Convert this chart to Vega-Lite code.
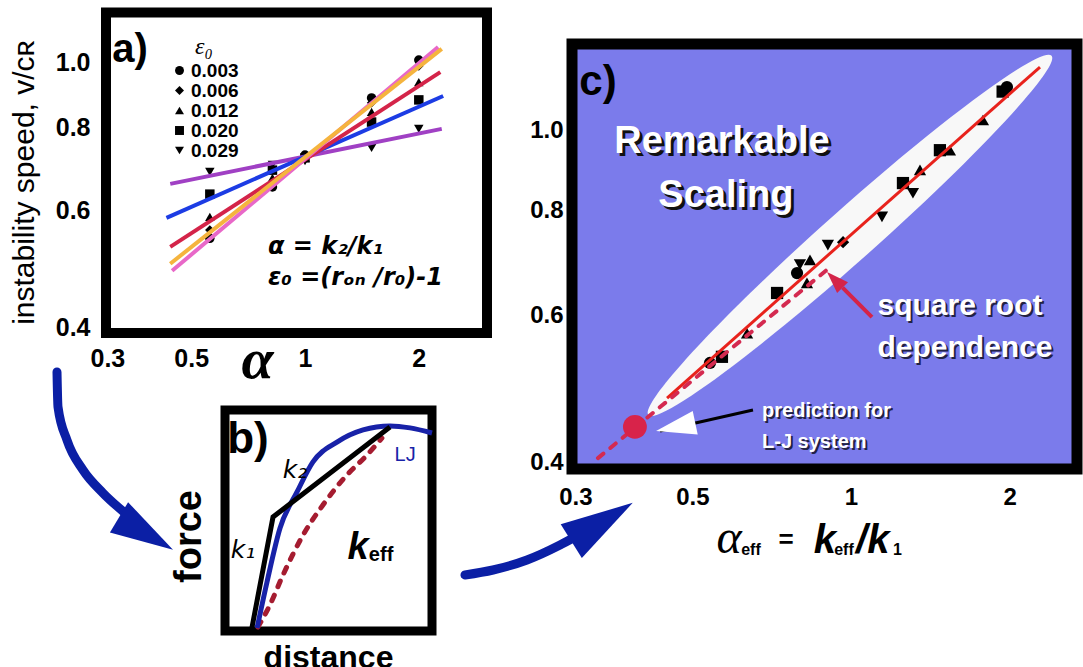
{
"$schema": "https://vega.github.io/schema/vega-lite/v6.json",
"width": 1083, "height": 667, "autosize": "none", "padding": 0, "background": "white",
"config": {"view": {"stroke": null}, "font": "Liberation Sans",
  "axis": {"grid": false, "domain": false, "ticks": false, "tickSize": 0, "labelFont": "Liberation Sans", "labelFontWeight": "bold", "labelColor": "black", "titleColor": "black", "labelFlush": false, "labelOverlap": false, "titleFont": "Liberation Sans"}},
"datasets": {
  "a_points": [
    {"eps":"0.003","alpha":0.56,"v":0.545},{"eps":"0.003","alpha":0.82,"v":0.651},{"eps":"0.003","alpha":1.0,"v":0.727},{"eps":"0.003","alpha":1.5,"v":0.886},{"eps":"0.003","alpha":2.0,"v":1.01},
    {"eps":"0.006","alpha":0.56,"v":0.561},{"eps":"0.006","alpha":0.82,"v":0.66},{"eps":"0.006","alpha":1.0,"v":0.725},{"eps":"0.006","alpha":1.5,"v":0.871},{"eps":"0.006","alpha":2.0,"v":0.99},
    {"eps":"0.012","alpha":0.56,"v":0.587},{"eps":"0.012","alpha":0.82,"v":0.672},{"eps":"0.012","alpha":1.0,"v":0.72},{"eps":"0.012","alpha":1.5,"v":0.844},{"eps":"0.012","alpha":2.0,"v":0.936},
    {"eps":"0.020","alpha":0.56,"v":0.635},{"eps":"0.020","alpha":0.82,"v":0.69},{"eps":"0.020","alpha":1.0,"v":0.72},{"eps":"0.020","alpha":1.5,"v":0.815},{"eps":"0.020","alpha":2.0,"v":0.88},
    {"eps":"0.029","alpha":0.56,"v":0.686},{"eps":"0.029","alpha":0.82,"v":0.703},{"eps":"0.029","alpha":1.0,"v":0.712},{"eps":"0.029","alpha":1.5,"v":0.745},{"eps":"0.029","alpha":2.0,"v":0.796}
  ],
  "a_lines": [
    {"series":"0.003","alpha":0.445,"v":0.487},{"series":"0.003","alpha":2.25,"v":1.057},
    {"series":"0.006","alpha":0.44,"v":0.499},{"series":"0.006","alpha":2.3,"v":1.05},
    {"series":"0.012","alpha":0.44,"v":0.529},{"series":"0.012","alpha":2.28,"v":0.969},
    {"series":"0.020","alpha":0.43,"v":0.585},{"series":"0.020","alpha":2.32,"v":0.892},
    {"series":"0.029","alpha":0.44,"v":0.658},{"series":"0.029","alpha":2.3,"v":0.796}
  ],
  "b_curves": [
    {"curve":"LJ","x":1.55,"y":0.14},{"curve":"LJ","x":2.03,"y":2.22},{"curve":"LJ","x":2.66,"y":4.66},{"curve":"LJ","x":3.48,"y":6.29},{"curve":"LJ","x":4.25,"y":7.65},{"curve":"LJ","x":5.41,"y":8.55},{"curve":"LJ","x":6.67,"y":9.1},{"curve":"LJ","x":7.97,"y":9.28},{"curve":"LJ","x":8.94,"y":9.19},{"curve":"LJ","x":10.0,"y":8.96},
    {"curve":"model","x":1.3,"y":0.14},{"curve":"model","x":2.32,"y":5.16},{"curve":"model","x":7.97,"y":9.23},
    {"curve":"keff","x":1.59,"y":0.18},{"curve":"keff","x":2.17,"y":1.18},{"curve":"keff","x":2.8,"y":2.53},{"curve":"keff","x":3.77,"y":4.34},{"curve":"keff","x":4.73,"y":5.7},{"curve":"keff","x":5.89,"y":7.06},{"curve":"keff","x":6.86,"y":7.96},{"curve":"keff","x":7.58,"y":8.73}
  ],
  "arrows": [
    {"arrow":"ab","x":-8.116,"y":11.72},{"arrow":"ab","x":-8.068,"y":10.14},{"arrow":"ab","x":-7.633,"y":8.64},{"arrow":"ab","x":-6.86,"y":7.285},{"arrow":"ab","x":-5.894,"y":6.244},{"arrow":"ab","x":-4.83,"y":5.34},
    {"arrow":"bc","x":11.594,"y":2.534},{"arrow":"bc","x":12.947,"y":2.76},{"arrow":"bc","x":14.589,"y":3.213},{"arrow":"bc","x":16.184,"y":3.891},{"arrow":"bc","x":16.908,"y":4.253}
  ],
  "c_points": [
    {"eps":"0.003","a":1.977,"v":1.126},{"eps":"0.020","a":1.94,"v":1.112},{"eps":"0.012","a":1.78,"v":1.028},
    {"eps":"0.020","a":1.475,"v":0.946},{"eps":"0.012","a":1.541,"v":0.946},{"eps":"0.012","a":1.352,"v":0.896},
    {"eps":"0.020","a":1.255,"v":0.864},{"eps":"0.029","a":1.311,"v":0.84},{"eps":"0.029","a":1.145,"v":0.787},
    {"eps":"0.029","a":0.904,"v":0.728},{"eps":"0.006","a":0.966,"v":0.734},{"eps":"0.012","a":0.836,"v":0.699},
    {"eps":"0.029","a":0.8,"v":0.69},{"eps":"0.003","a":0.79,"v":0.674},{"eps":"0.012","a":0.825,"v":0.656},
    {"eps":"0.020","a":0.724,"v":0.638},{"eps":"0.012","a":0.635,"v":0.571},{"eps":"0.003","a":0.54,"v":0.526},
    {"eps":"0.020","a":0.569,"v":0.535}
  ],
  "c_lines": [
    {"line":"fit","a":0.4477,"v":0.4775},{"line":"fit","a":2.284,"v":1.19},
    {"line":"ext","a":0.331,"v":0.4046},{"line":"ext","a":0.9,"v":0.68}
  ],
  "c_text": [
    {"g":"big","t":"Remarkable","a":0.569,"v":0.9674},
    {"g":"big","t":"Scaling","a":0.579,"v":0.8336},
    {"g":"mid","t":"square root","a":1.61,"v":0.6155},
    {"g":"mid","t":"dependence","a":1.646,"v":0.548},
    {"g":"small","t":"prediction for","a":0.678,"v":0.4608},
    {"g":"small","t":"L-J system","a":0.678,"v":0.4229}
  ],
  "c_title": [
    {"g":"alpha","t":"α","a":0.587,"v":0.3114},
    {"g":"sub","t":"eff","a":0.646,"v":0.3097},
    {"g":"eq","t":"=","a":0.7528,"v":0.3158},
    {"g":"k","t":"k","a":0.8926,"v":0.3114},
    {"g":"sub","t":"eff","a":0.97,"v":0.3097},
    {"g":"k","t":"/k","a":1.1,"v":0.3114},
    {"g":"sub","t":"1","a":1.225,"v":0.3097}
  ]
},
"layer": [
  {"layer": [
    {"data": {"values": [{}]},
     "mark": {"type": "rect", "fill": "white", "stroke": "black", "strokeWidth": 10},
     "encoding": {
       "x": {"datum": 0.2975, "type": "quantitative",
             "scale": {"type": "log", "domain": [0.2975, 3.03], "range": [106, 487], "nice": false},
             "axis": {"orient": "bottom", "offset": -334, "values": [0.3, 0.5, 1, 2], "format": "~g", "labelFontSize": 25, "labelPadding": 13,
                      "title": "α", "titleFont": "Liberation Serif", "titleFontStyle": "italic", "titleFontWeight": "bold", "titleFontSize": 58,
                      "titleX": 257, "titleY": 44, "titleBaseline": "alphabetic", "titleAlign": "center"}},
       "x2": {"datum": 3.03},
       "y": {"datum": 0.3926, "type": "quantitative",
             "scale": {"type": "log", "domain": [0.3926, 1.191], "range": [333, 12.5], "nice": false},
             "axis": {"orient": "left", "offset": -106, "values": [0.4, 0.6, 0.8, 1], "format": ".1f", "labelFontSize": 25, "labelPadding": 16,
                      "title": "instability speed, v/cʀ", "titleFontSize": 30, "titleFontWeight": "normal",
                      "titleX": -73, "titleY": 182, "titleAngle": -90, "titleBaseline": "alphabetic", "titleAlign": "center"}},
       "y2": {"datum": 1.191}}},
    {"data": {"name": "a_points"},
     "mark": {"type": "point", "filled": true, "color": "black", "size": 90, "opacity": 1},
     "encoding": {
       "x": {"field": "alpha", "type": "quantitative"},
       "y": {"field": "v", "type": "quantitative"},
       "shape": {"field": "eps", "type": "nominal",
                 "scale": {"domain": ["0.003", "0.006", "0.012", "0.020", "0.029"], "range": ["circle", "diamond", "triangle-up", "square", "triangle-down"]},
                 "legend": {"orient": "none", "legendX": 170, "legendY": 35, "title": "ε₀", "titleFont": "Liberation Serif", "titleFontStyle": "italic", "titleFontWeight": "normal", "titleFontSize": 24, "titleColor": "black", "titleAnchor": "middle", "titlePadding": 2,
                            "labelFont": "Liberation Sans", "labelFontWeight": "bold", "labelFontSize": 19, "labelColor": "black", "labelOffset": 2, "symbolSize": 80, "symbolFillColor": "black", "symbolStrokeColor": "black", "rowPadding": 0, "padding": 0}}}},
    {"data": {"name": "a_lines"}, "transform": [{"filter": "datum.series === '0.029'"}],
     "mark": {"type": "line", "strokeWidth": 4, "color": "#a040c4"},
     "encoding": {"x": {"field": "alpha", "type": "quantitative"}, "y": {"field": "v", "type": "quantitative"}}},
    {"data": {"name": "a_lines"}, "transform": [{"filter": "datum.series === '0.020'"}],
     "mark": {"type": "line", "strokeWidth": 4, "color": "#1c3ce4"},
     "encoding": {"x": {"field": "alpha", "type": "quantitative"}, "y": {"field": "v", "type": "quantitative"}}},
    {"data": {"name": "a_lines"}, "transform": [{"filter": "datum.series === '0.012'"}],
     "mark": {"type": "line", "strokeWidth": 4, "color": "#d42449"},
     "encoding": {"x": {"field": "alpha", "type": "quantitative"}, "y": {"field": "v", "type": "quantitative"}}},
    {"data": {"name": "a_lines"}, "transform": [{"filter": "datum.series === '0.003'"}],
     "mark": {"type": "line", "strokeWidth": 4, "color": "#e868c8"},
     "encoding": {"x": {"field": "alpha", "type": "quantitative"}, "y": {"field": "v", "type": "quantitative"}}},
    {"data": {"name": "a_lines"}, "transform": [{"filter": "datum.series === '0.006'"}],
     "mark": {"type": "line", "strokeWidth": 4, "color": "#f5b43e"},
     "encoding": {"x": {"field": "alpha", "type": "quantitative"}, "y": {"field": "v", "type": "quantitative"}}},
    {"data": {"values": [{"t": "a)", "alpha": 0.3444, "v": 1.046}]},
     "mark": {"type": "text", "fontSize": 40, "fontWeight": "bold", "align": "center", "baseline": "middle", "color": "black"},
     "encoding": {"x": {"field": "alpha", "type": "quantitative"}, "y": {"field": "v", "type": "quantitative"}, "text": {"field": "t", "type": "nominal"}}},
    {"data": {"values": [{"t": "α = k₂/k₁", "alpha": 0.798, "v": 0.529}, {"t": "ε₀ =(rₒₙ /r₀)-1", "alpha": 0.798, "v": 0.475}]},
     "mark": {"type": "text", "font": "DejaVu Sans", "fontSize": 24, "fontWeight": "bold", "fontStyle": "italic", "align": "left", "baseline": "middle", "color": "black"},
     "encoding": {"x": {"field": "alpha", "type": "quantitative"}, "y": {"field": "v", "type": "quantitative"}, "text": {"field": "t", "type": "nominal"}}}
  ]},
  {"layer": [
    {"data": {"values": [{}]},
     "mark": {"type": "rect", "fill": "white", "stroke": "black", "strokeWidth": 9},
     "encoding": {
       "x": {"datum": 0, "type": "quantitative",
             "scale": {"domain": [0, 10], "range": [225, 432], "nice": false, "zero": false},
             "axis": {"orient": "bottom", "offset": -36, "labels": false, "title": "distance", "titleFontSize": 32, "titleFontWeight": "bold",
                      "titleX": 328, "titleY": 36, "titleBaseline": "alphabetic", "titleAlign": "center"}},
       "x2": {"datum": 10},
       "y": {"datum": 0, "type": "quantitative",
             "scale": {"domain": [0, 10], "range": [631, 410], "nice": false, "zero": false},
             "axis": {"orient": "left", "offset": -225, "labels": false, "title": "force", "titleFontSize": 38, "titleFontWeight": "bold",
                      "titleX": -25, "titleY": 536, "titleAngle": -90, "titleBaseline": "alphabetic", "titleAlign": "center"}},
       "y2": {"datum": 10}}},
    {"data": {"name": "b_curves"}, "transform": [{"filter": "datum.curve === 'keff'"}],
     "mark": {"type": "line", "color": "#a51c30", "strokeWidth": 5, "strokeDash": [6, 9], "strokeCap": "round", "interpolate": "monotone"},
     "encoding": {"x": {"field": "x", "type": "quantitative"}, "y": {"field": "y", "type": "quantitative"}}},
    {"data": {"name": "b_curves"}, "transform": [{"filter": "datum.curve === 'LJ'"}],
     "mark": {"type": "line", "color": "#1822a8", "strokeWidth": 5, "interpolate": "monotone"},
     "encoding": {"x": {"field": "x", "type": "quantitative"}, "y": {"field": "y", "type": "quantitative"}}},
    {"data": {"name": "b_curves"}, "transform": [{"filter": "datum.curve === 'model'"}],
     "mark": {"type": "line", "color": "black", "strokeWidth": 5},
     "encoding": {"x": {"field": "x", "type": "quantitative"}, "y": {"field": "y", "type": "quantitative"}}},
    {"data": {"values": [{"t": "b)", "x": 1.11, "y": 8.64}]},
     "mark": {"type": "text", "fontSize": 44, "fontWeight": "bold", "align": "center", "baseline": "middle", "color": "black"},
     "encoding": {"x": {"field": "x", "type": "quantitative"}, "y": {"field": "y", "type": "quantitative"}, "text": {"field": "t", "type": "nominal"}}},
    {"data": {"values": [{"t": "k₂", "x": 3.38, "y": 7.29}, {"t": "k₁", "x": 0.87, "y": 3.67}]},
     "mark": {"type": "text", "font": "DejaVu Sans", "fontSize": 25, "fontStyle": "italic", "align": "center", "baseline": "middle", "color": "black"},
     "encoding": {"x": {"field": "x", "type": "quantitative"}, "y": {"field": "y", "type": "quantitative"}, "text": {"field": "t", "type": "nominal"}}},
    {"data": {"values": [{"t": "LJ", "x": 8.7, "y": 7.96}]},
     "mark": {"type": "text", "fontSize": 20, "align": "center", "baseline": "middle", "color": "#1822a8"},
     "encoding": {"x": {"field": "x", "type": "quantitative"}, "y": {"field": "y", "type": "quantitative"}, "text": {"field": "t", "type": "nominal"}}},
    {"data": {"values": [{"t": "k", "x": 6.43, "y": 3.76}]},
     "mark": {"type": "text", "fontSize": 38, "fontWeight": "bold", "fontStyle": "italic", "align": "center", "baseline": "middle", "color": "black"},
     "encoding": {"x": {"field": "x", "type": "quantitative"}, "y": {"field": "y", "type": "quantitative"}, "text": {"field": "t", "type": "nominal"}}},
    {"data": {"values": [{"t": "eff", "x": 7.54, "y": 3.44}]},
     "mark": {"type": "text", "fontSize": 20, "fontWeight": "bold", "align": "center", "baseline": "middle", "color": "black"},
     "encoding": {"x": {"field": "x", "type": "quantitative"}, "y": {"field": "y", "type": "quantitative"}, "text": {"field": "t", "type": "nominal"}}},
    {"data": {"name": "arrows"},
     "mark": {"type": "line", "color": "#0b1fa5", "strokeWidth": 9, "strokeCap": "round", "interpolate": "monotone"},
     "encoding": {"x": {"field": "x", "type": "quantitative"}, "y": {"field": "y", "type": "quantitative"}, "detail": {"field": "arrow", "type": "nominal"}}},
    {"data": {"values": [{"x": -3.816, "y": 4.41}]},
     "mark": {"type": "point", "shape": "M 0 -1 L 0.56 1 L -0.56 1 Z", "size": 3969, "angle": 121, "filled": true, "color": "#0b1fa5", "opacity": 1},
     "encoding": {"x": {"field": "x", "type": "quantitative"}, "y": {"field": "y", "type": "quantitative"}}},
    {"data": {"values": [{"x": 18.213, "y": 4.932}]},
     "mark": {"type": "point", "shape": "M 0 -1 L 0.55 1 L -0.55 1 Z", "size": 5256, "angle": 58, "filled": true, "color": "#0b1fa5", "opacity": 1},
     "encoding": {"x": {"field": "x", "type": "quantitative"}, "y": {"field": "y", "type": "quantitative"}}}
  ]},
  {"layer": [
    {"data": {"values": [{}]},
     "mark": {"type": "rect", "fill": "#7b7beb", "stroke": "black", "strokeWidth": 11},
     "encoding": {
       "x": {"datum": 0.2955, "type": "quantitative",
             "scale": {"type": "log", "domain": [0.2955, 2.685], "range": [572, 1077], "nice": false},
             "axis": {"orient": "bottom", "offset": -198, "values": [0.3, 0.5, 1, 2, 3], "format": "~g", "labelFontSize": 24, "labelPadding": 16, "title": null}},
       "x2": {"datum": 2.685},
       "y": {"datum": 0.3926, "type": "quantitative",
             "scale": {"type": "log", "domain": [0.3926, 1.268], "range": [469, 44], "nice": false},
             "axis": {"orient": "left", "offset": -572, "values": [0.4, 0.6, 0.8, 1], "format": ".1f", "labelFontSize": 24, "labelPadding": 9, "title": null}},
       "y2": {"datum": 1.268}}},
    {"data": {"values": [{"a": 0.9956, "v": 0.748}]},
     "mark": {"type": "point", "shape": "M -1 0 C -1 -0.052 -0.552 -0.095 0 -0.095 C 0.552 -0.095 1 -0.052 1 0 C 1 0.052 0.552 0.095 0 0.095 C -0.552 0.095 -1 0.052 -1 0 Z", "size": 291600, "angle": 318.3, "filled": true, "color": "#f8f8f8", "opacity": 1},
     "encoding": {"x": {"field": "a", "type": "quantitative"}, "y": {"field": "v", "type": "quantitative"}}},
    {"data": {"name": "c_points"},
     "mark": {"type": "point", "filled": true, "color": "black", "size": 150, "opacity": 1},
     "encoding": {
       "x": {"field": "a", "type": "quantitative"},
       "y": {"field": "v", "type": "quantitative"},
       "shape": {"field": "eps", "type": "nominal",
                 "scale": {"domain": ["0.003", "0.006", "0.012", "0.020", "0.029"], "range": ["circle", "diamond", "triangle-up", "square", "triangle-down"]},
                 "legend": null}}},
    {"data": {"name": "c_lines"}, "transform": [{"filter": "datum.line === 'fit'"}],
     "mark": {"type": "line", "color": "#e8221c", "strokeWidth": 3},
     "encoding": {"x": {"field": "a", "type": "quantitative"}, "y": {"field": "v", "type": "quantitative"}}},
    {"data": {"name": "c_lines"}, "transform": [{"filter": "datum.line === 'ext'"}],
     "mark": {"type": "line", "color": "#d42a50", "strokeWidth": 4, "strokeDash": [7, 9], "strokeCap": "round"},
     "encoding": {"x": {"field": "a", "type": "quantitative"}, "y": {"field": "v", "type": "quantitative"}}},
    {"data": {"values": [{"a": 0.389, "v": 0.441}]},
     "mark": {"type": "point", "shape": "circle", "size": 570, "filled": true, "color": "#d8234a", "opacity": 1},
     "encoding": {"x": {"field": "a", "type": "quantitative"}, "y": {"field": "v", "type": "quantitative"}}},
    {"data": {"values": [{"a1": 1.096, "v1": 0.597, "a2": 0.964, "v2": 0.6476}]},
     "mark": {"type": "rule", "color": "#d42449", "strokeWidth": 4},
     "encoding": {"x": {"field": "a1", "type": "quantitative"}, "y": {"field": "v1", "type": "quantitative"}, "x2": {"field": "a2"}, "y2": {"field": "v2"}}},
    {"data": {"values": [{"a": 0.9317, "v": 0.6615}]},
     "mark": {"type": "point", "shape": "M 0 -1 L 0.7 1 L -0.7 1 Z", "size": 484, "angle": 315, "filled": true, "color": "#d42449", "opacity": 1},
     "encoding": {"x": {"field": "a", "type": "quantitative"}, "y": {"field": "v", "type": "quantitative"}}},
    {"data": {"values": [{"a1": 0.6517, "v1": 0.4621, "a2": 0.4342, "v2": 0.436}]},
     "mark": {"type": "rule", "color": "black", "strokeWidth": 3},
     "encoding": {"x": {"field": "a1", "type": "quantitative"}, "y": {"field": "v1", "type": "quantitative"}, "x2": {"field": "a2"}, "y2": {"field": "v2"}}},
    {"data": {"values": [{"a": 0.4648, "v": 0.441}]},
     "mark": {"type": "point", "shape": "M 0 -1 L 0.6 1 L -0.6 1 Z", "size": 1600, "angle": 258, "filled": true, "color": "white", "opacity": 1},
     "encoding": {"x": {"field": "a", "type": "quantitative"}, "y": {"field": "v", "type": "quantitative"}}},
    {"data": {"values": [{"t": "c)", "a": 0.331, "v": 1.1414}]},
     "mark": {"type": "text", "fontSize": 42, "fontWeight": "bold", "align": "center", "baseline": "middle", "color": "black"},
     "encoding": {"x": {"field": "a", "type": "quantitative"}, "y": {"field": "v", "type": "quantitative"}, "text": {"field": "t", "type": "nominal"}}},
    {"data": {"name": "c_text"}, "transform": [{"filter": "datum.g === 'big'"}],
     "mark": {"type": "text", "fontSize": 38, "fontWeight": "bold", "align": "center", "baseline": "middle", "color": "#111111", "dx": 3, "dy": 3},
     "encoding": {"x": {"field": "a", "type": "quantitative"}, "y": {"field": "v", "type": "quantitative"}, "text": {"field": "t", "type": "nominal"}}},
    {"data": {"name": "c_text"}, "transform": [{"filter": "datum.g === 'big'"}],
     "mark": {"type": "text", "fontSize": 38, "fontWeight": "bold", "align": "center", "baseline": "middle", "color": "white"},
     "encoding": {"x": {"field": "a", "type": "quantitative"}, "y": {"field": "v", "type": "quantitative"}, "text": {"field": "t", "type": "nominal"}}},
    {"data": {"name": "c_text"}, "transform": [{"filter": "datum.g === 'mid'"}],
     "mark": {"type": "text", "fontSize": 30, "fontWeight": "bold", "align": "center", "baseline": "middle", "color": "#222244", "dx": 2, "dy": 2},
     "encoding": {"x": {"field": "a", "type": "quantitative"}, "y": {"field": "v", "type": "quantitative"}, "text": {"field": "t", "type": "nominal"}}},
    {"data": {"name": "c_text"}, "transform": [{"filter": "datum.g === 'mid'"}],
     "mark": {"type": "text", "fontSize": 30, "fontWeight": "bold", "align": "center", "baseline": "middle", "color": "white"},
     "encoding": {"x": {"field": "a", "type": "quantitative"}, "y": {"field": "v", "type": "quantitative"}, "text": {"field": "t", "type": "nominal"}}},
    {"data": {"name": "c_text"}, "transform": [{"filter": "datum.g === 'small'"}],
     "mark": {"type": "text", "fontSize": 20, "fontWeight": "bold", "align": "left", "baseline": "middle", "color": "#222244", "dx": 2, "dy": 2},
     "encoding": {"x": {"field": "a", "type": "quantitative"}, "y": {"field": "v", "type": "quantitative"}, "text": {"field": "t", "type": "nominal"}}},
    {"data": {"name": "c_text"}, "transform": [{"filter": "datum.g === 'small'"}],
     "mark": {"type": "text", "fontSize": 20, "fontWeight": "bold", "align": "left", "baseline": "middle", "color": "white"},
     "encoding": {"x": {"field": "a", "type": "quantitative"}, "y": {"field": "v", "type": "quantitative"}, "text": {"field": "t", "type": "nominal"}}},
    {"data": {"name": "c_title"}, "transform": [{"filter": "datum.g === 'alpha'"}],
     "mark": {"type": "text", "font": "Liberation Serif", "fontSize": 48, "fontStyle": "italic", "align": "center", "baseline": "alphabetic", "color": "black"},
     "encoding": {"x": {"field": "a", "type": "quantitative"}, "y": {"field": "v", "type": "quantitative"}, "text": {"field": "t", "type": "nominal"}}},
    {"data": {"name": "c_title"}, "transform": [{"filter": "datum.g === 'sub'"}],
     "mark": {"type": "text", "fontSize": 16, "fontWeight": "bold", "align": "center", "baseline": "alphabetic", "color": "black"},
     "encoding": {"x": {"field": "a", "type": "quantitative"}, "y": {"field": "v", "type": "quantitative"}, "text": {"field": "t", "type": "nominal"}}},
    {"data": {"name": "c_title"}, "transform": [{"filter": "datum.g === 'eq'"}],
     "mark": {"type": "text", "fontSize": 26, "fontWeight": "bold", "align": "center", "baseline": "alphabetic", "color": "black"},
     "encoding": {"x": {"field": "a", "type": "quantitative"}, "y": {"field": "v", "type": "quantitative"}, "text": {"field": "t", "type": "nominal"}}},
    {"data": {"name": "c_title"}, "transform": [{"filter": "datum.g === 'k'"}],
     "mark": {"type": "text", "fontSize": 40, "fontWeight": "bold", "fontStyle": "italic", "align": "center", "baseline": "alphabetic", "color": "black"},
     "encoding": {"x": {"field": "a", "type": "quantitative"}, "y": {"field": "v", "type": "quantitative"}, "text": {"field": "t", "type": "nominal"}}}
  ]}
],
"resolve": {
  "scale": {"x": "independent", "y": "independent", "shape": "independent"},
  "axis": {"x": "independent", "y": "independent"},
  "legend": {"shape": "independent"}
}
}
